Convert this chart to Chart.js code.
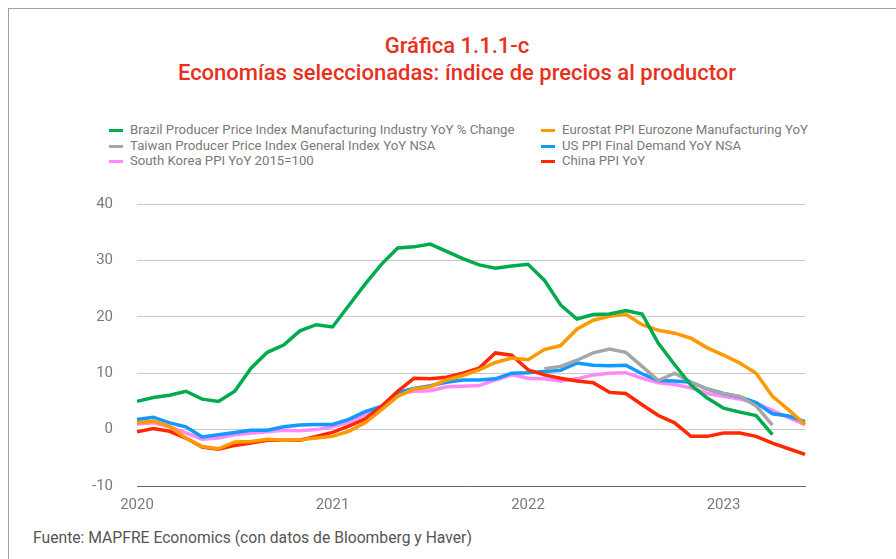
<!DOCTYPE html>
<html>
<head>
<meta charset="utf-8">
<script src="https://cdn.jsdelivr.net/npm/chart.js@4"></script>
<style>
  body { margin: 0; width: 896px; height: 559px; overflow: hidden; background: #fff; font-family: Roboto, sans-serif; position: relative; }
  #frame { position: absolute; left: 8px; top: 8px; width: 1000px; height: 1000px; border: 1px solid #a0a0a0; }
  .title { position: absolute; left: 8px; width: 898px; text-align: center; color: #e8301e; font-size: 22px; font-weight: 500; }
  .legend { position: absolute; font-size: 13.2px; color: #7a7a7a; white-space: nowrap; }
  .legend span { position: absolute; left: -21px; top: 7px; width: 14px; height: 3px; }
  #source { position: absolute; left: 33px; top: 528px; font-size: 15.7px; color: #555; }
  #wrap { position: absolute; left: 60px; top: 171px; width: 752px; height: 349px; }
</style>
</head>
<body>
<div id="frame"></div>
<div class="title" style="top:33px">Gráfica 1.1.1-c</div>
<div class="title" style="top:60px">Economías seleccionadas: índice de precios al productor</div>
<div id="legend"></div>
<div id="wrap"><canvas id="chart"></canvas></div>
<div id="source">Fuente: MAPFRE Economics (con datos de Bloomberg y Haver)</div>
<script>
//Monthly points, Jan 2020 - Jun 2023
const years = ['2020', '2021', '2022', '2023'];
const brazil = [5.0, 5.7, 6.1, 6.8, 5.4, 5.0, 6.8, 10.9, 13.7, 15.0, 17.5, 18.6,
  18.2, 22.0, 25.8, 29.3, 32.2, 32.4, 32.9, 31.6, 30.3, 29.2, 28.6, 29.0,
  29.3, 26.5, 22.1, 19.6, 20.4, 20.5, 21.1, 20.5, 15.3, 11.5, 7.9, 5.6,
  3.8, 3.1, 2.5, -0.9, null, null];
const eurostat = [1.2, 1.5, 0.6, -1.5, -3.0, -3.4, -2.2, -2.1, -1.7, -1.9, -1.8, -1.5,
  -1.2, -0.3, 1.2, 3.5, 5.9, 7.2, 7.6, 8.8, 9.6, 10.6, 11.9, 12.7,
  12.4, 14.2, 14.9, 17.8, 19.4, 20.1, 20.5, 18.6, 17.6, 17.1, 16.2, 14.5,
  13.2, 11.8, 10.0, 5.9, 3.5, 0.9];
const taiwan = [null, null, null, null, null, null, null, null, null, null, null, null,
  null, null, null, null, null, null, null, null, null, null, null, null,
  null, 10.8, 11.2, 12.3, 13.6, 14.3, 13.7, 11.2, 8.7, 10.0, 8.4, 7.2,
  6.4, 5.9, 4.2, 0.8, null, null];
const usa = [1.8, 2.2, 1.2, 0.5, -1.3, -0.9, -0.5, -0.1, -0.1, 0.5, 0.8, 0.9,
  0.9, 1.8, 3.2, 4.1, 6.6, 7.3, 7.8, 8.4, 8.8, 8.8, 9.0, 10.0,
  10.1, 10.3, 10.5, 11.8, 11.4, 11.3, 11.4, 9.9, 8.7, 8.6, 8.4, 7.2,
  6.4, 5.8, 4.8, 2.8, 2.4, 1.4];
const korea = [1.0, 1.2, 0.5, -0.6, -1.7, -1.5, -0.9, -0.6, -0.4, -0.1, -0.2, 0.0,
  0.5, 1.3, 2.7, 4.2, 6.4, 6.8, 6.9, 7.6, 7.7, 7.8, 8.8, 9.7,
  9.1, 9.0, 8.6, 9.0, 9.7, 10.0, 10.1, 9.1, 8.3, 8.0, 7.4, 6.4,
  5.9, 5.4, 4.7, 3.4, 2.1, 0.9];
const china = [-0.4, 0.2, -0.3, -1.5, -3.1, -3.5, -2.8, -2.4, -1.9, -1.9, -1.9, -1.2,
  -0.5, 0.6, 1.9, 4.1, 6.8, 9.1, 9.0, 9.3, 10.0, 10.9, 13.6, 13.2,
  10.6, 9.7, 9.1, 8.6, 8.3, 6.6, 6.4, 4.4, 2.5, 1.2, -1.2, -1.2,
  -0.6, -0.6, -1.2, -2.4, -3.4, -4.4];

const months = brazil.map((v, i) => years[Math.floor(i / 12)] + '-' + (i % 12 + 1));

//Legend entries in the order they appear, two columns
const series = [
  { label: 'Brazil Producer Price Index Manufacturing Industry YoY % Change', data: brazil, color: '#00ab4e', col: 0, row: 0 },
  { label: 'Eurostat PPI Eurozone Manufacturing YoY', data: eurostat, color: '#ff9900', col: 1, row: 0 },
  { label: 'Taiwan Producer Price Index General Index YoY NSA', data: taiwan, color: '#a6a6a6', col: 0, row: 1 },
  { label: 'US PPI Final Demand YoY NSA', data: usa, color: '#0f9aff', col: 1, row: 1 },
  { label: 'South Korea PPI YoY 2015=100', data: korea, color: '#ff88fa', col: 0, row: 2 },
  { label: 'China PPI YoY', data: china, color: '#ff2800', col: 1, row: 2 }
];

const legend = document.getElementById('legend');
series.forEach(s => {
  const d = document.createElement('div');
  d.className = 'legend';
  d.style.left = (s.col ? 562 : 130) + 'px';
  d.style.top = (122 + s.row * 15.5) + 'px';
  d.innerHTML = `<span style="background:${s.color}"></span>${s.label}`;
  legend.appendChild(d);
});

//Drawing order: first dataset ends up on top
const drawOrder = ['Brazil', 'Eurostat', 'China', 'Taiwan', 'US', 'South'];
const datasets = drawOrder.map(key => {
  const s = series.find(x => x.label.startsWith(key));
  return {
    label: s.label,
    data: s.data,
    borderColor: s.color,
    backgroundColor: s.color,
    borderWidth: 3.5,
    pointRadius: 0,
    tension: 0,
    spanGaps: false
  };
});

new Chart(document.getElementById('chart'), {
  type: 'line',
  data: { labels: months, datasets },
  options: {
    responsive: true,
    maintainAspectRatio: false,
    animation: false,
    layout: { padding: { top: 13, right: 7, bottom: 0, left: 0 } },
    plugins: { legend: { display: false }, tooltip: { enabled: false } },
    scales: {
      x: {
        offset: false,
        grid: { display: false },
        border: { display: true, color: '#666', dash: [1, 1], width: 1 },
        ticks: {
          autoSkip: false,
          maxRotation: 0,
          padding: 2,
          color: '#7a7a7a',
          font: { family: 'Roboto', size: 15 },
          callback: (v, i) => (i % 12 === 0 ? years[i / 12] : '')
        },
        afterFit: scale => { scale.height = 34; }
      },
      y: {
        min: -10,
        max: 40,
        ticks: { stepSize: 10, padding: 24, color: '#7a7a7a', font: { family: 'Roboto', size: 15 } },
        grid: { color: ctx => (ctx.tick && ctx.tick.value === -10 ? 'rgba(0,0,0,0)' : '#c8c8c8'), lineWidth: 1, drawTicks: false },
        border: { display: false },
        afterFit: scale => { scale.width = 77; }
      }
    }
  }
});
</script>
</body>
</html>
